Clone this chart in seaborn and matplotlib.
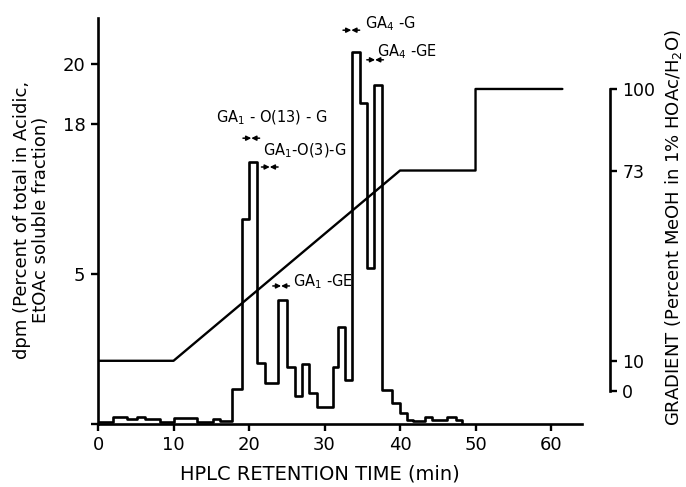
import numpy as np
import pandas as pd
import matplotlib
matplotlib.use("Agg")
import matplotlib.pyplot as plt
import seaborn as sns
from matplotlib.transforms import blended_transform_factory

# ---- data ----
# histogram bin edges (retention time, min) and dpm per bin
bin_edges = [0.0, 2.0, 3.8, 5.2, 6.2, 8.2, 10.0, 13.1, 15.2, 16.2, 17.8, 19.1,
             20.0, 21.1, 22.1, 23.8, 25.0, 26.1, 27.0, 27.9, 29.0, 31.1, 31.8,
             32.7, 33.6, 34.7, 35.6, 36.6, 37.6, 38.9, 40.0, 40.9, 41.7, 43.3,
             44.3, 46.2, 47.4, 48.2]
dpm = [0.05, 0.23, 0.17, 0.23, 0.17, 0.07, 0.2, 0.07, 0.17, 0.1,
       1.17, 9.8, 14.7, 2.03, 1.37, 4.13, 1.9, 0.93, 2.0, 1.03,
       0.57, 1.9, 3.23, 1.47, 20.4, 18.7, 5.5, 19.3, 1.13, 0.7,
       0.37, 0.13, 0.1, 0.23, 0.13, 0.23, 0.13]

# gradient program (% MeOH)
grad_time = [0, 10, 40, 50, 50, 61.5]
grad_pct = [10, 10, 73, 73, 100, 100]

x_ticks = [0, 10, 20, 30, 40, 50, 60]
y_ticks = [0, 5, 18, 20]
y_ticklabels = ["", "5", "18", "20"]
grad_ticks = [0, 10, 73, 100]

labels = ["GA$_1$ - O(13) - G", "GA$_1$-O(3)-G", "GA$_1$ -GE", "GA$_4$ -G", "GA$_4$ -GE"]
label_time = [15.6, 21.9, 25.8, 35.4, 37.0]
arrow_time = [20.3, 22.75, 24.25, 33.55, 36.7]

# ---- style ----
sns.set_style("ticks")
plt.rcParams["font.family"] = ["DejaVu Sans"]
plt.rcParams["mathtext.fontset"] = "dejavusans"
for k in ["text.color", "axes.labelcolor", "xtick.color", "ytick.color", "axes.edgecolor"]:
    plt.rcParams[k] = "black"

fig = plt.figure(figsize=(6.86, 4.87), dpi=100)
ax = fig.add_axes([98 / 686, 1 - 424 / 487, 484 / 686, 406 / 487])

hist_df = pd.DataFrame({"t": bin_edges, "v": dpm + [0.0]})
sns.lineplot(data=hist_df, x="t", y="v", estimator=None, sort=False,
             drawstyle="steps-post", color="black", lw=1.9, ax=ax)

# broken (piecewise-linear) dpm axis
_yv = [-10, 0, 5, 18, 40]
_yp = [-10, 0, 5, 10, 32]


def fwd(v):
    return np.interp(v, _yv, _yp)


def inv(p):
    return np.interp(p, _yp, _yv)


ax.set_yscale("function", functions=(fwd, inv))
ax.set_ylim(0, 21.53)
ax.set_xlim(0, 64.1)
ax.set_xticks(x_ticks)
ax.set_xticklabels([str(v) for v in x_ticks])
ax.set_yticks(y_ticks)
ax.set_yticklabels(y_ticklabels)
ax.minorticks_off()
ax.set_xlabel("")
ax.set_ylabel("")
for s in ["top", "right"]:
    ax.spines[s].set_visible(False)
for s in ["left", "bottom"]:
    ax.spines[s].set_linewidth(1.9)
    ax.spines[s].set_color("black")
ax.tick_params(axis="both", direction="out", length=5, width=1.7,
               labelsize=13, pad=4, colors="black")

# gradient axis
ax2 = ax.twinx()
grad_df = pd.DataFrame({"t": grad_time, "g": grad_pct})
sns.lineplot(data=grad_df, x="t", y="g", estimator=None, sort=False,
             color="black", lw=1.7, ax=ax2)
ax2.set_ylim(-10.93, 123.5)
ax2.set_yticks(grad_ticks)
ax2.set_yticklabels([str(v) for v in grad_ticks])
ax2.set_ylabel("")
for s in ["top", "left", "bottom"]:
    ax2.spines[s].set_visible(False)
ax2.spines["right"].set_position(("outward", 20))
ax2.spines["right"].set_bounds(0, 100)
ax2.spines["right"].set_linewidth(1.9)
ax2.spines["right"].set_color("black")
ax2.tick_params(axis="y", direction="out", length=5, width=1.7,
                labelsize=12.5, pad=4, colors="black")

# annotations with small double arrows
trans = blended_transform_factory(ax.transData, ax.transAxes)
label_y = [0.754, 0.672, 0.35, 0.985, 0.916]
arrow_y = [0.704, 0.633, 0.34, 0.970, 0.897]
half = 1.1
for lab, lt, at, ly, ay in zip(labels, label_time, arrow_time, label_y, arrow_y):
    ax.text(lt, ly, lab, transform=trans, fontsize=10.5, ha="left", va="center",
            color="black")
    for side in (-1, 1):
        ax.annotate("", xy=(at, ay), xycoords=trans,
                    xytext=(at + side * half, ay), textcoords=trans,
                    arrowprops=dict(arrowstyle="-|>", color="black", lw=1.1,
                                    mutation_scale=7, shrinkA=0, shrinkB=0))

fig.text(31.5 / 686, 1 - 220 / 487,
         "dpm (Percent of total in Acidic,\nEtOAc soluble fraction)",
         rotation=90, ha="center", va="center", multialignment="center",
         fontsize=13, linespacing=1.05, color="black")
fig.text(674 / 686, 1 - 228 / 487, "GRADIENT (Percent MeOH in 1% HOAc/H$_2$O)",
         rotation=90, ha="center", va="center", fontsize=13, color="black")
fig.text(320 / 686, 1 - 474 / 487, "HPLC RETENTION TIME (min)",
         ha="center", va="center", fontsize=14, color="black")

fig.savefig("out.png", dpi=100)
